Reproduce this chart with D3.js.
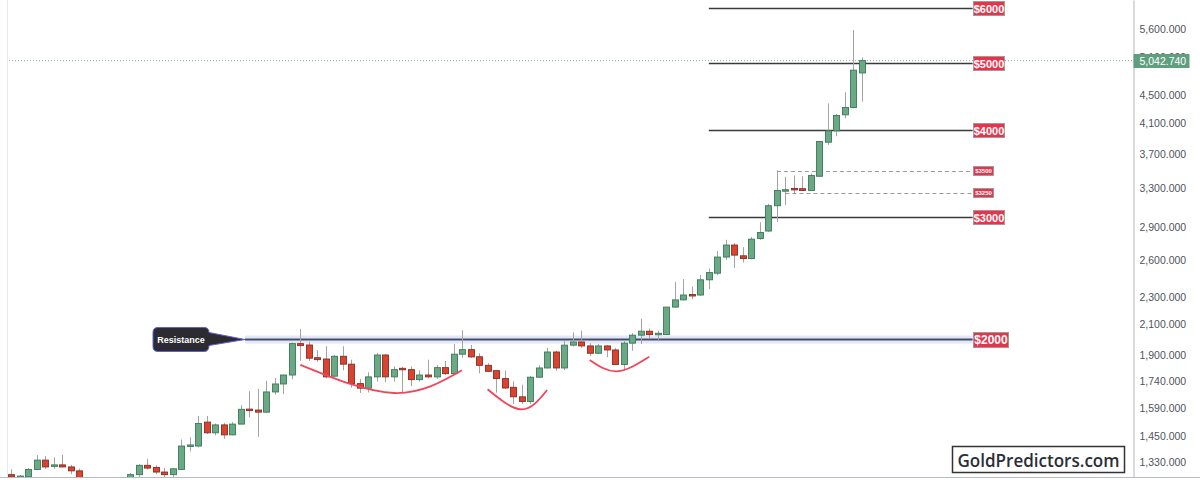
<!DOCTYPE html>
<html lang="en">
<head>
<meta charset="UTF-8">
<title>Gold monthly candles</title>
<script src="https://d3js.org/d3.v7.min.js"></script>
<style>
  body { margin: 0; background: #fff; }
  svg { display: block; font-family: "Liberation Sans", Arial, sans-serif; }
</style>
</head>
<body>
<script>
// monthly candles, Oct 2017 .. Feb 2026
var months = [
  "2017-10","2017-11","2017-12",
  "2018-01","2018-02","2018-03","2018-04","2018-05","2018-06","2018-07","2018-08","2018-09","2018-10","2018-11","2018-12",
  "2019-01","2019-02","2019-03","2019-04","2019-05","2019-06","2019-07","2019-08","2019-09","2019-10","2019-11","2019-12",
  "2020-01","2020-02","2020-03","2020-04","2020-05","2020-06","2020-07","2020-08","2020-09","2020-10","2020-11","2020-12",
  "2021-01","2021-02","2021-03","2021-04","2021-05","2021-06","2021-07","2021-08","2021-09","2021-10","2021-11","2021-12",
  "2022-01","2022-02","2022-03","2022-04","2022-05","2022-06","2022-07","2022-08","2022-09","2022-10","2022-11","2022-12",
  "2023-01","2023-02","2023-03","2023-04","2023-05","2023-06","2023-07","2023-08","2023-09","2023-10","2023-11","2023-12",
  "2024-01","2024-02","2024-03","2024-04","2024-05","2024-06","2024-07","2024-08","2024-09","2024-10","2024-11","2024-12",
  "2025-01","2025-02","2025-03","2025-04","2025-05","2025-06","2025-07","2025-08","2025-09","2025-10","2025-11","2025-12",
  "2026-01","2026-02"
];
var open = [
  1276,1266,1267,
  1298,1339,1312,1318,1309,1292,1250,1224,1201,1192,1215,1222,
  1276,1316,1307,1287,1276,1298,1403,1403,1519,1466,1505,1456,
  1509,1586,1581,1570,1679,1724,1776,1971,1962,1881,1873,1769,
  1890,1841,1726,1700,1765,1898,1765,1816,1808,1749,1776,1765,
  1820,1784,1903,1932,1887,1834,1802,1755,1705,1652,1627,1763,
  1818,1917,1818,1961,1982,1956,1909,1956,1930,1839,1974,2027,
  2054,2031,2031,2225,2279,2320,2316,2436,2490,2627,2734,2638,
  2614,2794,2864,3115,3274,3299,3296,3277,3435,3846,3994,4212,
  4315,4840
];
var high = [
  1299,1274,1304,
  1361,1357,1351,1363,1318,1301,1266,1235,1214,1243,1237,1283,
  1321,1345,1316,1304,1304,1434,1444,1550,1550,1512,1514,1519,
  1607,1683,1697,1743,1759,1779,1978,2070,1984,1928,1954,1898,
  1954,1869,1753,1792,1911,1904,1828,1824,1828,1804,1869,1836,
  1861,1968,2061,1962,1909,1847,1806,1802,1739,1720,1771,1834,
  1943,1925,1990,2046,2058,1974,1969,1962,1943,1995,2041,2141,
  2072,2058,2225,2420,2442,2382,2475,2529,2680,2782,2752,2715,
  2807,2947,3137,3503,3429,3443,3435,3466,3863,4374,4222,4539,
  5581,5097
];
var low = [
  1257,1253,1262,
  1295,1301,1301,1307,1278,1237,1211,1160,1181,1183,1196,1221,
  1266,1298,1278,1262,1264,1298,1378,1396,1460,1454,1437,1454,
  1509,1543,1447,1568,1664,1667,1751,1861,1861,1855,1757,1764,
  1804,1703,1673,1676,1737,1734,1737,1677,1711,1737,1757,1753,
  1776,1780,1881,1880,1786,1795,1675,1695,1613,1613,1613,1760,
  1815,1802,1806,1952,1943,1892,1903,1884,1836,1802,1925,1968,
  2008,1987,2028,2220,2274,2284,2310,2362,2473,2603,2535,2580,
  2608,2782,2856,2954,3123,3249,3271,3270,3430,3812,3924,4164,
  4305,4402
];
var close = [
  1266,1270,1298,
  1339,1309,1318,1309,1292,1250,1224,1201,1192,1215,1222,1276,
  1316,1304,1287,1276,1301,1403,1408,1512,1466,1505,1456,1509,
  1585,1581,1570,1679,1724,1776,1971,1958,1878,1869,1765,1890,
  1841,1726,1700,1765,1898,1765,1808,1808,1749,1776,1765,1820,
  1784,1903,1932,1886,1834,1798,1755,1701,1652,1627,1763,1818,
  1917,1818,1961,1982,1956,1909,1956,1930,1839,1974,2027,2054,
  2031,2040,2225,2279,2316,2313,2436,2495,2627,2734,2644,2614,
  2788,2850,3115,3277,3285,3285,3277,3443,3855,3994,4202,4315,
  4885,5042.74
];

// price axis ticks
var tickVals = [1330, 1450, 1590, 1740, 1900, 2100, 2300, 2600, 2900, 3300, 3700, 4100, 4500, 5100, 5600];

// marked price levels
var levels = [6000, 5000, 4000, 3000];
var dashedLevels = [3500, 3250];
var dashedStart = [90, 91];
var resistance = 2000;

// cup shaped arcs under the resistance: [candle index, price]
var cups = [
  [[34, 1837], [45, 1673], [53, 1804]],
  [[56, 1694], [60, 1585], [63, 1690]],
  [[68, 1867], [71.2, 1798], [75, 1887]]
];

var W = 1200, H = 480;
var axisX = 1133, plotBottom = 477;

var svg = d3.select("body").append("svg")
    .attr("width", W)
    .attr("height", H);

var x = d3.scaleLinear().domain([0, 100]).range([11, 862]);
var y = d3.scaleLog().domain([1266, 6166]).range([plotBottom, 0]);

svg.append("defs").append("clipPath").attr("id", "plot")
  .append("rect").attr("x", 8).attr("y", 0).attr("width", axisX - 8).attr("height", plotBottom);

// frame lines
svg.append("line")
    .attr("x1", 7.5).attr("x2", 7.5).attr("y1", 0).attr("y2", plotBottom)
    .attr("stroke", "#e6e8ee");
svg.append("line")
    .attr("x1", 0).attr("x2", W).attr("y1", plotBottom + 0.5).attr("y2", plotBottom + 0.5)
    .attr("stroke", "#b8bbc3");

var plot = svg.append("g").attr("clip-path", "url(#plot)");

// current price dotted line
var last = close[close.length - 1];
plot.append("line")
    .attr("x1", 0).attr("x2", axisX)
    .attr("y1", y(last)).attr("y2", y(last))
    .attr("stroke", "#7fb59a")
    .attr("stroke-dasharray", "1,2");

// resistance band + line
var resY = Math.round(y(resistance)) + 0.5;
plot.append("line")
    .attr("x1", x(27.5)).attr("x2", x(113))
    .attr("y1", resY).attr("y2", resY)
    .attr("stroke", "#e2e8f8").attr("stroke-width", 8);
plot.append("line")
    .attr("x1", x(27.5)).attr("x2", x(113))
    .attr("y1", resY).attr("y2", resY)
    .attr("stroke", "#474d69").attr("stroke-width", 1.8);

// solid levels
plot.selectAll("line.level").data(levels).enter().append("line")
    .attr("class", "level")
    .attr("x1", x(82)).attr("x2", x(113))
    .attr("y1", function(d) { return Math.round(y(d)) + 0.5; })
    .attr("y2", function(d) { return Math.round(y(d)) + 0.5; })
    .attr("stroke", "#3a3a3a").attr("stroke-width", 1.5);

// dashed levels
plot.selectAll("line.dlevel").data(dashedLevels).enter().append("line")
    .attr("class", "dlevel")
    .attr("x1", function(d, i) { return x(dashedStart[i]); }).attr("x2", x(113))
    .attr("y1", function(d) { return Math.round(y(d)) + 0.5; })
    .attr("y2", function(d) { return Math.round(y(d)) + 0.5; })
    .attr("stroke", "#9a9a9a").attr("stroke-dasharray", "4,3");

// candles
var candles = months.map(function(m, i) {
  return { m: m, i: i, o: open[i], h: high[i], l: low[i], c: close[i] };
});

plot.selectAll("line.wick").data(candles).enter().append("line")
    .attr("class", "wick")
    .attr("x1", function(d) { return Math.round(x(d.i)) + 0.5; })
    .attr("x2", function(d) { return Math.round(x(d.i)) + 0.5; })
    .attr("y1", function(d) { return y(d.h); })
    .attr("y2", function(d) { return y(d.l); })
    .attr("stroke", "#a3a3a3");

plot.selectAll("rect.body").data(candles).enter().append("rect")
    .attr("class", "body")
    .attr("x", function(d) { return Math.round(x(d.i)) - 2.5; })
    .attr("width", 6)
    .attr("y", function(d) { return y(Math.max(d.o, d.c)); })
    .attr("height", function(d) { return Math.max(1.5, y(Math.min(d.o, d.c)) - y(Math.max(d.o, d.c))); })
    .attr("fill", function(d) { return d.c >= d.o ? "#6aa886" : "#d9432f"; })
    .attr("stroke", function(d) { return d.c >= d.o ? "#3a7a58" : "#8a2d22"; })
    .attr("stroke-width", 0.9);

// cups
var cupLine = d3.line()
    .x(function(d) { return x(d[0]); })
    .y(function(d) { return y(d[1]); })
    .curve(d3.curveNatural);
plot.selectAll("path.cup").data(cups).enter().append("path")
    .attr("class", "cup")
    .attr("d", cupLine)
    .attr("fill", "none")
    .attr("stroke", "#f2455a")
    .attr("stroke-width", 1.8);

// level tags
function tag(price, big, small) {
  var cy = y(price);
  var w = small ? 20 : (big ? 35 : 31), h = small ? 9 : (big ? 15 : 14);
  var g = svg.append("g").attr("transform", "translate(" + Math.round(x(113)) + "," + Math.round(cy - h / 2) + ")");
  g.append("rect").attr("x", 0.5).attr("y", 0.5).attr("width", w).attr("height", h)
      .attr("fill", "#e8334a").attr("stroke", "#9b9b9b");
  g.append("text").attr("x", w / 2 + 0.5).attr("y", h / 2 + 0.5)
      .attr("text-anchor", "middle").attr("dominant-baseline", "central")
      .attr("fill", "#fff").attr("font-weight", "bold")
      .attr("font-size", small ? 6 : (big ? 12 : 11))
      .text("$" + price);
}
levels.forEach(function(p) { tag(p, false, false); });
dashedLevels.forEach(function(p) { tag(p, false, true); });
tag(resistance, true, false);

// resistance callout
var callout = svg.append("g");
callout.append("path")
    .attr("d", "M158," + (resY - 12) + " H204 Q209," + (resY - 12) + " 209," + (resY - 7) +
               " L" + x(27.5) + "," + resY + " L209," + (resY + 6) +
               " Q209," + (resY + 12) + " 204," + (resY + 12) + " H158 Q153," + (resY + 12) + " 153," + (resY + 7) +
               " V" + (resY - 7) + " Q153," + (resY - 12) + " 158," + (resY - 12) + " Z")
    .attr("fill", "#2b2b31")
    .attr("stroke", "#6060d8")
    .attr("stroke-width", 1);
callout.append("text")
    .attr("x", 181).attr("y", resY)
    .attr("text-anchor", "middle").attr("dominant-baseline", "central")
    .attr("fill", "#fff").attr("font-size", 9).attr("font-weight", "bold")
    .text("Resistance");

// price axis
var yAxis = d3.axisRight(y)
    .tickValues(tickVals)
    .tickSize(0)
    .tickPadding(6)
    .tickFormat(d3.format(",.3f"));
var ax = svg.append("g")
    .attr("transform", "translate(" + (axisX + 0.5) + ",0)")
    .call(yAxis);
ax.select(".domain").attr("stroke", "#b2b5be");
ax.selectAll("text").attr("fill", "#50535e").attr("font-size", 10.5)
    .attr("font-family", "'Liberation Sans', Arial, sans-serif");

// last price tag
var lp = svg.append("g").attr("transform", "translate(" + (axisX + 0.5) + "," + Math.round(y(last) - 7) + ")");
lp.append("rect").attr("width", 56).attr("height", 14).attr("fill", "#5f9f7f");
lp.append("text").attr("x", 6).attr("y", 7)
    .attr("dominant-baseline", "central")
    .attr("fill", "#fff").attr("font-size", 10.5)
    .text(d3.format(",.3f")(last));

// watermark
var wm = svg.append("g");
wm.append("rect").attr("x", 952.5).attr("y", 446.5).attr("width", 172).attr("height", 26)
    .attr("fill", "#fff").attr("stroke", "#333").attr("stroke-width", 1.5);
wm.append("text").attr("x", 1038.5).attr("y", 460)
    .attr("text-anchor", "middle").attr("dominant-baseline", "central")
    .attr("fill", "#2a2e39").attr("font-size", 18).attr("font-weight", 600)
    .attr("font-family", "'Open Sans', 'Noto Sans', sans-serif")
    .attr("textLength", 162).attr("lengthAdjust", "spacingAndGlyphs")
    .text("GoldPredictors.com");
</script>
</body>
</html>
